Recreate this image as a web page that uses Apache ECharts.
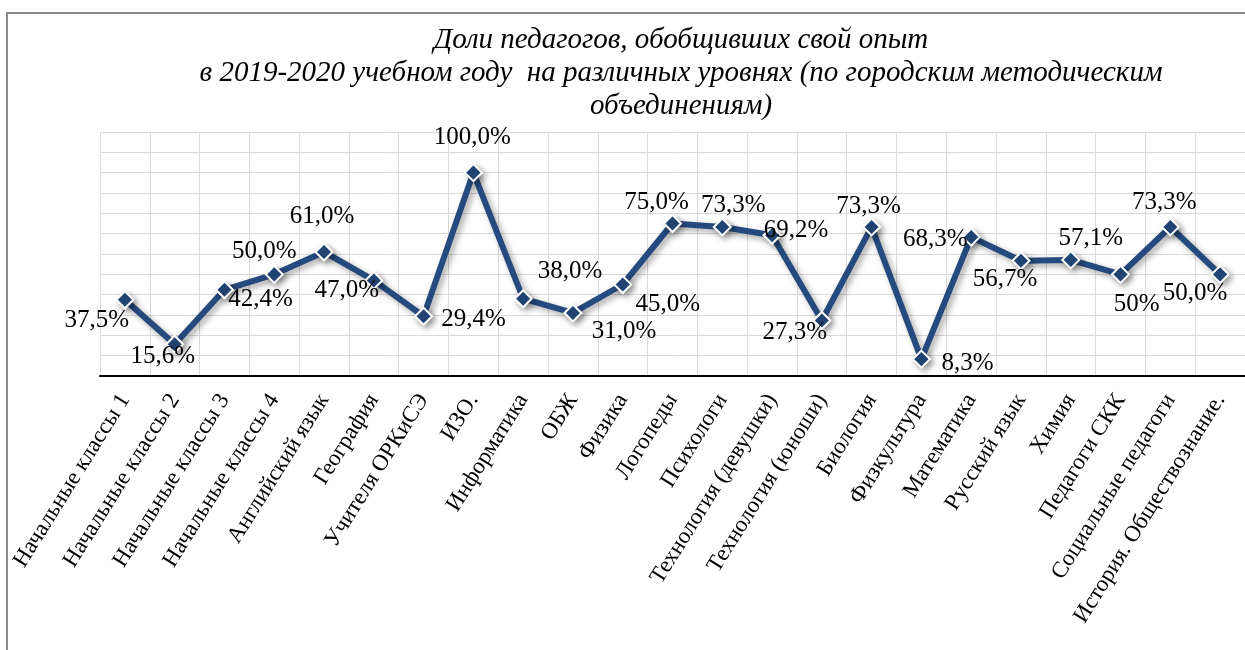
<!DOCTYPE html>
<html>
<head>
<meta charset="utf-8">
<script src="https://cdn.jsdelivr.net/npm/echarts@6/dist/echarts.min.js"></script>
<style>
html,body{margin:0;padding:0;background:#fff;}
#chart{width:1245px;height:650px;}
</style>
</head>
<body>
<div id="chart"></div>
<script>
// ---- data ----
const categories = [
  'Начальные классы 1','Начальные классы 2','Начальные классы 3','Начальные классы 4',
  'Английский язык','География','Учителя ОРКиСЭ','ИЗО.','Информатика','ОБЖ','Физика',
  'Логопеды','Психологи','Технология (девушки)','Технология (юноши)','Биология',
  'Физкультура','Математика','Русский язык','Химия','Педагоги СКК','Социальные педагоги',
  'История. Обществознание.'
];
const shares = [37.5,15.6,42.4,50.0,61.0,47.0,29.4,100.0,38.0,31.0,45.0,75.0,73.3,69.2,27.3,73.3,8.3,68.3,56.7,57.1,50,73.3,50.0];
const labelDecimals = [1,1,1,1,1,1,1,1,1,1,1,1,1,1,1,1,1,1,1,1,0,1,1];
const titleLines = [
  'Доли педагогов, обобщивших свой опыт',
  'в 2019-2020 учебном году  на различных уровнях (по городским методическим',
  'объединениям)'
];

// ---- layout (label placement around each marker) ----
const labelOffsets = [
  [-28,21],[-12,12],[36,10],[-10,-23],[-2,-36],[-27,10],[50,3],[-1,-35],[47,-27],[51,18],
  [45,20],[-16,-21],[11,-22],[24,-5],[-27,12],[-3,-21],[46,4],[-36,2],[-16,19],[20,-21],
  [16,30],[-6,-25],[-25,19]
];

const SERIF = "'Liberation Serif', 'Times New Roman', serif";
const fmt = (v, d) => v.toFixed(d).replace('.', ',') + '%';

const seriesData = shares.map((v, i) => ({
  value: v,
  label: { offset: labelOffsets[i], formatter: fmt(v, labelDecimals[i]) }
}));

const chart = echarts.init(document.getElementById('chart'), null, {renderer: 'canvas'});
chart.setOption({
  backgroundColor: '#fff',
  animation: false,
  title: {
    text: titleLines.join('\n'),
    left: 676,
    top: 19,
    textAlign: 'center',
    textStyle: {
      fontFamily: SERIF,
      fontStyle: 'italic',
      fontWeight: 'normal',
      fontSize: 29,
      lineHeight: 33,
      color: '#000'
    }
  },
  graphic: [{
    type: 'rect',
    shape: {x: 7, y: 13, width: 1300, height: 700},
    style: {fill: 'none', stroke: '#8a8a8a', lineWidth: 2},
    silent: true,
    z: -1
  }],
  grid: {left: 100, right: -5, top: 132, height: 244},
  xAxis: {
    type: 'category',
    data: categories,
    boundaryGap: true,
    axisTick: {show: false},
    axisLine: {lineStyle: {color: '#000', width: 2}},
    splitLine: {show: true, interval: 0, lineStyle: {color: '#d9d9d9', width: 1}},
    axisLabel: {
      interval: 0,
      rotate: 58,
      margin: 20,
      fontFamily: SERIF,
      fontSize: 23,
      color: '#000'
    }
  },
  yAxis: {
    type: 'value',
    min: 0, max: 120, interval: 10,
    axisLabel: {show: false},
    axisLine: {show: false},
    axisTick: {show: false},
    splitLine: {lineStyle: {color: '#d9d9d9', width: 1}}
  },
  series: [{
    type: 'line',
    data: seriesData,
    symbol: 'diamond',
    symbolSize: 17,
    lineStyle: {
      color: '#254a7d', width: 6,
      shadowColor: 'rgba(0,0,0,0.35)', shadowBlur: 6, shadowOffsetX: 3, shadowOffsetY: 3
    },
    itemStyle: {
      color: '#254a7d', borderColor: '#fff', borderWidth: 2,
      shadowColor: 'rgba(0,0,0,0.35)', shadowBlur: 6, shadowOffsetX: 3, shadowOffsetY: 3
    },
    label: {
      show: true,
      position: 'inside',
      fontFamily: SERIF,
      fontSize: 25,
      color: '#000'
    },
    emphasis: {disabled: true}
  }]
});
</script>
</body>
</html>
